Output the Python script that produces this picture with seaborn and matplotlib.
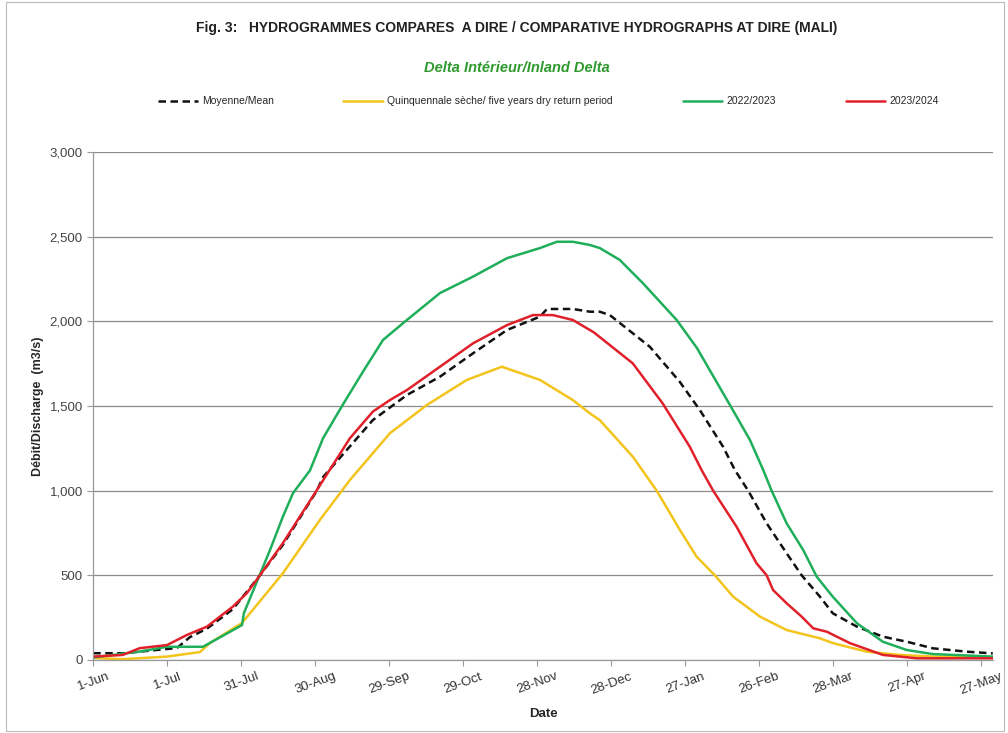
import numpy as np
import pandas as pd
import matplotlib
matplotlib.use("Agg")
import matplotlib.pyplot as plt
import seaborn as sns

# ---- data (day index counted from 1-Jun) ----
mean_days = [0, 12, 29.9, 33.9, 39.2, 46.1, 56.6, 67.6, 76.9, 90.7, 93.2, 113.4, 127.2, 140.6, 154.0,
             167.8, 181.2, 184.0, 194.5, 201.4, 205.4, 209.5, 225.7, 237.8, 246.0, 255.4, 260.2, 265.6,
             273.1, 281.2, 287.3, 294.7, 299.9, 309.7, 320.2, 329.9, 340.5, 354.3, 364.8]
mean_vals = [40, 40, 65, 70, 135, 185, 300, 500, 680, 1000, 1080, 1417, 1565, 1673, 1811,
             1949, 2028, 2073, 2073, 2057, 2057, 2037, 1850, 1644, 1476, 1260, 1122, 1000,
             807, 630, 500, 374, 276, 197, 138, 108, 69, 49, 39]

dry_days = [0, 12, 29.9, 43.3, 47.3, 60.3, 76.9, 91.9, 104.1, 120.3, 135.3, 151.5, 165.7,
            181.2, 194.5, 201.4, 205.4, 218.8, 228.5, 237.9, 244.7, 252.1, 259.5, 270.4, 281.2,
            294.7, 299.9, 313.7, 327.1, 340.5, 364.8]
dry_vals = [12, 5, 20, 47, 100, 218, 512, 827, 1063, 1339, 1506, 1654, 1732,
            1654, 1535, 1457, 1417, 1201, 1000, 768, 610, 500, 374, 256, 177,
            128, 100, 49, 30, 20, 15]

g22_days = [0, 18.9, 29.9, 44.5, 60.3, 61.1, 71.7, 76.9, 81.0, 87.9, 93.2, 101.3, 109.4, 117.5,
            127.2, 140.6, 154.0, 167.8, 181.2, 188.0, 194.5, 201.4, 205.4, 213.5, 222.8, 236.6,
            244.8, 258.2, 266.3, 271.7, 275.1, 281.2, 287.9, 293.4, 299.9, 309.7, 320.2, 329.9,
            340.5, 364.8]
g22_vals = [15, 50, 78, 78, 206, 277, 650, 846, 985, 1120, 1310, 1510, 1703, 1890,
            2008, 2167, 2264, 2373, 2433, 2470, 2470, 2451, 2433, 2363, 2227, 2008,
            1843, 1506, 1300, 1122, 1000, 807, 650, 492, 374, 217, 108, 59,
            35, 20]

r23_days = [0, 12, 18.9, 29.9, 38.0, 46.1, 56.6, 62.3, 67.6, 76.9, 90.7, 104.1, 113.4, 120.3,
            127.2, 140.6, 154.0, 167.8, 178.3, 186.4, 194.5, 203.0, 218.8, 230.9, 241.9,
            246.7, 251.4, 260.9, 269.0, 273.1, 275.7, 281.2, 287.3, 292.0, 297.5, 306.8, 320.2,
            334.0, 364.8]
r23_vals = [20, 30, 70, 88, 148, 197, 315, 395, 500, 690, 1004, 1310, 1467, 1535,
            1594, 1732, 1870, 1978, 2037, 2037, 2008, 1935, 1752, 1516, 1260,
            1122, 1000, 787, 571, 500, 413, 335, 256, 187, 167, 100, 30,
            10, 10]

tick_days = [0, 30, 60, 90, 120, 150, 180, 210, 240, 270, 300, 330, 360]
tick_labels = ["1-Jun", "1-Jul", "31-Jul", "30-Aug", "29-Sep", "29-Oct", "28-Nov",
               "28-Dec", "27-Jan", "26-Feb", "28-Mar", "27-Apr", "27-May"]
y_ticks = [0, 500, 1000, 1500, 2000, 2500, 3000]

series_names = ["Moyenne/Mean", "Quinquennale sèche/ five years dry return period", "2022/2023", "2023/2024"]
colors = ["#111111", "#f2c41c", "#1fae5a", "#e0202a"]

frames = []
for name, d, v in zip(series_names, [mean_days, dry_days, g22_days, r23_days],
                      [mean_vals, dry_vals, g22_vals, r23_vals]):
    frames.append(pd.DataFrame({"day": d, "q": v, "series": name}))
df = pd.concat(frames, ignore_index=True)

sns.set_style("white")
plt.rcParams["font.family"] = ["Liberation Sans", "DejaVu Sans"]

fig = plt.figure(figsize=(10.08, 7.33), dpi=100)
ax = fig.add_axes([0.0925, 0.0996, 0.8929, 0.693])

for name, c in zip(series_names, colors):
    sub = df[df["series"] == name]
    ls = (0, (3, 1.8)) if name == "Moyenne/Mean" else "-"
    sns.lineplot(data=sub, x="day", y="q", ax=ax, color=c, linewidth=1.8,
                 linestyle=ls, label=name, legend=False, sort=False)

ax.set_xlim(0, 365)
ax.set_ylim(0, 3000)
ax.set_yticks(y_ticks)
ax.set_yticklabels([f"{t:,}" for t in y_ticks], fontsize=9.5, color="#444444")
ax.set_xticks(tick_days)
ax.set_xticklabels(tick_labels, rotation=20, fontsize=9.5, color="#333333")
ax.tick_params(axis="both", length=4, color="#999999", direction="out", left=True, bottom=True)
ax.yaxis.grid(True, color="#8a8a8a", linewidth=0.9)
ax.set_axisbelow(True)
for s in ["top", "right"]:
    ax.spines[s].set_visible(False)
for s in ["left", "bottom"]:
    ax.spines[s].set_color("#999999")
    ax.spines[s].set_linewidth(0.9)

ax.set_xlabel("Date", fontsize=9.5, fontweight="bold", labelpad=8)
ax.set_ylabel("Débit/Discharge  (m3/s)", fontsize=9, fontweight="bold", labelpad=4)

fig.text(0.513, 0.962, "Fig. 3:   HYDROGRAMMES COMPARES  A DIRE / COMPARATIVE HYDROGRAPHS AT DIRE (MALI)",
         ha="center", va="center", fontsize=10, fontweight="bold", color="#222222")
fig.text(0.513, 0.907, "Delta Intérieur/Inland Delta", ha="center", va="center",
         fontsize=10.5, fontweight="bold", style="italic", color="#2e9a2e")

handles, labels = ax.get_legend_handles_labels()
leg = fig.legend(handles, labels, loc="center", bbox_to_anchor=(0.544, 0.862), ncol=4,
                 frameon=False, fontsize=7.5, handlelength=3.8, columnspacing=6.7, handletextpad=0.4)

fig.patches.append(plt.Rectangle((0.006, 0.003), 0.99, 0.994, transform=fig.transFigure,
                                 fill=False, edgecolor="#bbbbbb", linewidth=0.8))

fig.savefig("out.png", dpi=100)
